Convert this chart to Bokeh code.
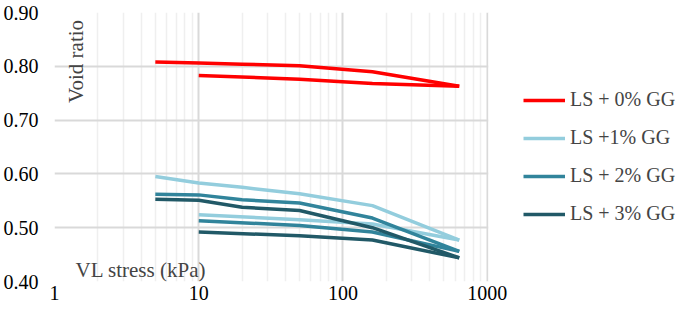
from bokeh.plotting import figure
from bokeh.models import (FixedTicker, NumeralTickFormatter, Range1d, Legend,
                          LegendItem, Label, BoxAnnotation)
from bokeh.embed import file_html
from bokeh.resources import INLINE
import math

# Loading and unloading paths (VL stress in kPa, void ratio)
load_x = [5, 10, 20, 50, 160, 640]
unload_x = [640, 160, 50, 10]

ls0_load = [0.808, 0.806, 0.804, 0.801, 0.790, 0.763]
ls0_unload = [0.763, 0.768, 0.776, 0.783]

ls1_load = [0.595, 0.583, 0.575, 0.563, 0.541, 0.477]
ls1_unload = [0.477, 0.507, 0.515, 0.524]

ls2_load = [0.562, 0.561, 0.552, 0.546, 0.518, 0.456]
ls2_unload = [0.456, 0.492, 0.504, 0.513]

ls3_load = [0.553, 0.551, 0.538, 0.532, 0.500, 0.444]
ls3_unload = [0.444, 0.477, 0.485, 0.492]

series_names = ["LS + 0% GG", "LS +1% GG", "LS + 2% GG", "LS + 3% GG"]
series_colors = ["#FF0000", "#93CDDD", "#31849B", "#215967"]

y_ticks = [0.4, 0.5, 0.6, 0.7, 0.8, 0.9]
x_ticks = [1, 10, 100, 1000]

FONT = "'Liberation Serif', 'Times New Roman', serif"

# plot area: x from 1 to 1000 kPa (log), extra room on the right holds the legend
FRAME_LEFT, FRAME_TOP, FRAME_BOTTOM = 52, 12, 281
W, H = 677, 305
decade_px = 144.7
x_end = 10 ** ((W - FRAME_LEFT) / decade_px)

p = figure(width=W, height=H, x_axis_type="log",
           x_range=Range1d(1, x_end), y_range=Range1d(0.4, 0.9),
           output_backend="svg", toolbar_location=None,
           min_border_left=FRAME_LEFT, min_border_right=0,
           min_border_top=FRAME_TOP, min_border_bottom=H - FRAME_BOTTOM)
p.outline_line_color = None
p.background_fill_color = "white"
p.border_fill_color = "white"

loads = [ls0_load, ls1_load, ls2_load, ls3_load]
unloads = [ls0_unload, ls1_unload, ls2_unload, ls3_unload]
items = []
for name, col, ld, ul in zip(series_names, series_colors, loads, unloads):
    r1 = p.line(load_x, ld, line_color=col, line_width=3.5, line_join="round")
    r2 = p.line(unload_x, ul, line_color=col, line_width=3.5, line_join="round")
    items.append(LegendItem(label=name, renderers=[r1]))

# Axes
minor = [m * d for d in (1, 10, 100) for m in range(2, 10)]
p.xaxis.ticker = FixedTicker(ticks=x_ticks, minor_ticks=minor)
p.xaxis.formatter = NumeralTickFormatter(format="0")
p.yaxis.ticker = FixedTicker(ticks=y_ticks)
p.yaxis.formatter = NumeralTickFormatter(format="0.00")
for ax in (p.xaxis[0], p.yaxis[0]):
    ax.axis_line_color = None
    ax.major_tick_line_color = None
    ax.minor_tick_line_color = None
    ax.major_tick_in = 0
    ax.major_tick_out = 0
    ax.minor_tick_in = 0
    ax.minor_tick_out = 0
    ax.major_label_text_font = FONT
    ax.major_label_text_font_size = "20px"
    ax.major_label_text_color = "#000000"
p.xaxis.major_label_standoff = 4
p.yaxis.major_label_standoff = 16

p.xgrid.grid_line_color = "#d9d9d9"
p.xgrid.grid_line_width = 2
p.xgrid.minor_grid_line_color = "#efefef"
p.xgrid.minor_grid_line_width = 1.5
p.ygrid.grid_line_color = "#d9d9d9"
p.ygrid.grid_line_width = 2

# blank the grid to the right of 1000 kPa, where the legend sits
p.add_layout(BoxAnnotation(left=1018, fill_color="white", fill_alpha=1.0,
                           line_color=None))

# Axis titles drawn inside the plot area
p.add_layout(Label(x=1.40, y=0.809, text="Void ratio", angle=math.pi / 2,
                   text_font=FONT, text_font_size="21px",
                   text_align="center", text_baseline="middle"))
p.add_layout(Label(x=1.40, y=0.422, text="VL stress (kPa)",
                   text_font=FONT, text_font_size="21px",
                   text_align="left", text_baseline="middle"))

legend = Legend(items=items, location=(469, 56))
legend.label_text_font = FONT
legend.label_text_font_size = "20px"
legend.glyph_width = 42
legend.glyph_height = 20
legend.label_height = 20
legend.spacing = 15
legend.label_standoff = 5
legend.padding = 0
legend.margin = 0
legend.border_line_color = None
legend.background_fill_alpha = 0
p.add_layout(legend, "center")

open("out.html", "w").write(file_html(p, INLINE))
